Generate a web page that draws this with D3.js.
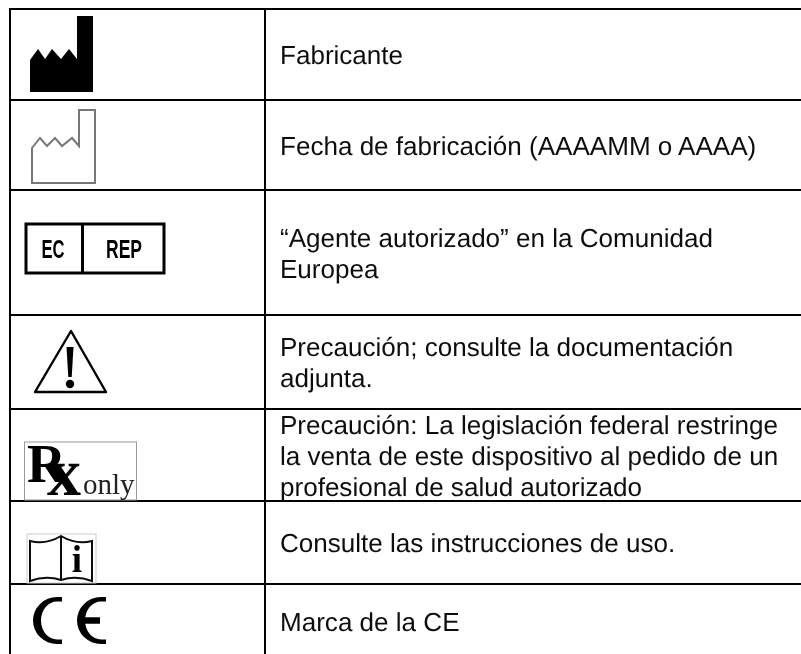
<!DOCTYPE html>
<html>
<head>
<meta charset="utf-8">
<script src="https://cdn.jsdelivr.net/npm/d3@7"></script>
<style>
html, body { margin: 0; padding: 0; background: #fff; }
svg { display: block; }
</style>
</head>
<body>
<div id="chart"></div>
<script>
// table content, one entry per row
const symbols = ['factory', 'factoryDate', 'ecRep', 'caution', 'rxOnly', 'manual', 'ce'];
const descriptions = [
    ['Fabricante'],
    ['Fecha de fabricación (AAAAMM o AAAA)'],
    ['“Agente autorizado” en la Comunidad', 'Europea'],
    ['Precaución; consulte la documentación', 'adjunta.'],
    ['Precaución: La legislación federal restringe', 'la venta de este dispositivo al pedido de un', 'profesional de salud autorizado'],
    ['Consulte las instrucciones de uso.'],
    ['Marca de la CE']
];
const rowHeights = [91, 90, 125, 94, 92, 83, 74];

var state = {
    width: 801,
    height: 654,
    top: 9,
    left: 10,
    split: 265,
    textX: 280,
    fontSize: 26.05,
    lineHeight: 31,
    lineColor: '#000',
    textColor: '#111'
};

const iconDrawers = {
    factory: function(g){
        g.append('path')
            .attr('d', 'M30,92 V60 L38,49 L45,59 L52,49 L61,59 L69,49 L77,59 V16 H93 V92 Z')
            .attr('fill', '#000');
    },
    factoryDate: function(g){
        g.append('path')
            .attr('d', 'M32,183 V148 L40,138 L47,146 L55,138 L62,146 L72,138 L79,146 V110 H95 V183 Z')
            .attr('fill', 'none')
            .attr('stroke', '#777')
            .attr('stroke-width', 2);
    },
    ecRep: function(g){
        g.append('rect')
            .attr('x', 26).attr('y', 224)
            .attr('width', 138).attr('height', 49)
            .attr('fill', 'none')
            .attr('stroke', '#000')
            .attr('stroke-width', 3);
        g.append('line')
            .attr('x1', 82.5).attr('x2', 82.5)
            .attr('y1', 224).attr('y2', 273)
            .attr('stroke', '#000')
            .attr('stroke-width', 3);
        // narrow lettering: squeeze the bold face to the measured width
        g.selectAll('.ec')
            .data([['EC', 53, 23], ['REP', 124, 36]])
            .enter()
            .append('text')
                .attr('class', 'ec')
                .attr('x', (d) => d[1])
                .attr('y', 258)
                .attr('text-anchor', 'middle')
                .attr('textLength', (d) => d[2])
                .attr('lengthAdjust', 'spacingAndGlyphs')
                .attr('font-family', '"Liberation Sans", sans-serif')
                .attr('font-weight', 'bold')
                .attr('font-size', 25)
                .text((d) => d[0]);
    },
    caution: function(g){
        g.append('path')
            .attr('d', 'M71,331 L35,392 H106 Z')
            .attr('fill', 'none')
            .attr('stroke', '#000')
            .attr('stroke-width', 2.4)
            .attr('stroke-linejoin', 'round');
        g.append('path')
            .attr('d', 'M66.5,347 H73.5 L71.7,377 H68.3 Z')
            .attr('fill', '#000');
        g.append('circle')
            .attr('cx', 70).attr('cy', 384)
            .attr('r', 4.2)
            .attr('fill', '#000');
    },
    rxOnly: function(g){
        g.append('rect')
            .attr('x', 24.5).attr('y', 442)
            .attr('width', 112).attr('height', 58)
            .attr('fill', 'none')
            .attr('stroke', '#999')
            .attr('stroke-width', 1);
        let t = g.append('text')
            .attr('font-family', '"Liberation Serif", "Times New Roman", serif')
            .attr('fill', '#000');
        t.append('tspan')
            .attr('x', 27).attr('y', 482)
            .attr('font-weight', 'bold')
            .attr('font-size', 54)
            .text('R');
        t.append('tspan')
            .attr('x', 47).attr('y', 495)
            .attr('font-weight', 'bold')
            .attr('font-size', 68)
            .text('x');
        t.append('tspan')
            .attr('x', 83).attr('y', 494)
            .attr('font-size', 29)
            .attr('fill', '#222')
            .text('only');
    },
    manual: function(g){
        g.append('rect')
            .attr('x', 27).attr('y', 534)
            .attr('width', 69).attr('height', 49)
            .attr('fill', 'none')
            .attr('stroke', '#ccc')
            .attr('stroke-width', 1);
        g.append('path')
            .attr('d', 'M30,541 Q46,545 61,536 Q76,545 92,541 V581 Q76,575 61,580 Q46,575 30,581 Z M61,536 V580')
            .attr('fill', 'none')
            .attr('stroke', '#111')
            .attr('stroke-width', 2);
        g.append('text')
            .attr('x', 77).attr('y', 572)
            .attr('text-anchor', 'middle')
            .attr('font-family', '"Liberation Serif", serif')
            .attr('font-weight', 'bold')
            .attr('font-size', 37)
            .text('i');
    },
    ce: function(g){
        // crescents, thicker at the belly than at the tips
        g.selectAll('.crescent')
            .data([0, 44])
            .enter()
            .append('path')
                .attr('class', 'crescent')
                .attr('transform', (d) => 'translate(' + d + ',0)')
                .attr('d', 'M62,597 H57 A24,23.5 0 0 0 57,644 H62 V639.5 H57 A16,19 0 0 1 57,601.5 H62 Z')
                .attr('fill', '#000');
        g.append('path')
            .attr('d', 'M82,620.5 H100')
            .attr('stroke', '#000')
            .attr('stroke-width', 6.5);
    }
};

let svg = d3.select('#chart')
    .append('svg')
        .attr('width', state.width)
        .attr('height', state.height);

let defs = svg.append('defs');
defs.append('filter')
    .attr('id', 'soft')
    .append('feGaussianBlur')
        .attr('stdDeviation', 0.45);
defs.append('filter')
    .attr('id', 'softText')
    .attr('filterUnits', 'userSpaceOnUse')
    .attr('x', 0).attr('y', 0)
    .attr('width', state.width).attr('height', state.height)
    .append('feGaussianBlur')
        .attr('stdDeviation', 0.3);

let edges = [state.top].concat(Array.from(d3.cumsum(rowHeights), (d) => d + state.top));

drawGrid();
drawText();

let icons = svg.append('g').attr('filter', 'url(#soft)');
symbols.forEach((s) => iconDrawers[s](icons));

function drawGrid(){
    // last edge falls below the window so there is no closing rule
    svg.selectAll('.rule')
        .data(edges.slice(0, -1))
        .enter()
        .append('line')
            .attr('class', 'rule')
            .attr('x1', state.left - 1)
            .attr('x2', state.width)
            .attr('y1', (d) => d)
            .attr('y2', (d) => d)
            .style('stroke', state.lineColor)
            .style('stroke-width', 2);

    svg.selectAll('.col')
        .data([state.left, state.split])
        .enter()
        .append('line')
            .attr('class', 'col')
            .attr('x1', (d) => d)
            .attr('x2', (d) => d)
            .attr('y1', state.top)
            .attr('y2', state.height)
            .style('stroke', state.lineColor)
            .style('stroke-width', 2);
}

function drawText(){
    let rows = svg.append('g')
        .attr('filter', 'url(#softText)')
        .selectAll('.row')
        .data(descriptions)
        .enter()
        .append('text')
            .attr('class', 'row')
            .attr('font-family', '"Liberation Sans", Arial, sans-serif')
            .attr('font-size', state.fontSize)
            .attr('text-rendering', 'geometricPrecision')
            .attr('fill', state.textColor);

    rows.selectAll('tspan')
        .data((d, i) => d.map((line, j) => ({
            line: line,
            y: (edges[i] + edges[i + 1]) / 2 + (j - (d.length - 1) / 2) * state.lineHeight + 9.5
        })))
        .enter()
        .append('tspan')
            .attr('x', state.textX)
            .attr('y', (d) => d.y)
            .text((d) => d.line);
}
</script>
</body>
</html>
